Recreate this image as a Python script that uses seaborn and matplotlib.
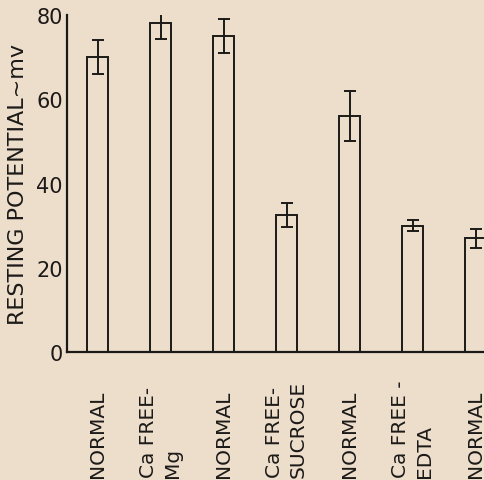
import matplotlib
matplotlib.use("Agg")
import matplotlib.pyplot as plt
import seaborn as sns
import pandas as pd
import numpy as np

# Resting potential by bathing solution
conditions = ["NORMAL", "Ca FREE-\nMg", "NORMAL", "Ca FREE-\nSUCROSE",
              "NORMAL", "Ca FREE -\nEDTA", "NORMAL"]
potential_mv = [70, 78, 75, 32.5, 56, 30, 27]
error_mv = [4, 3.7, 4, 2.9, 6, 1.3, 2.3]
y_ticks = [0, 20, 40, 60, 80]

bg = "#EDDECB"
ink = "#1c1a18"

sns.set_style("white")
plt.rcParams["font.family"] = ["DejaVu Sans"]

fig = plt.figure(figsize=(4.85, 4.81), dpi=100, facecolor=bg)
ax = fig.add_axes([0.138, 0.2661, 0.862, 0.7006])
ax.set_facecolor(bg)

df = pd.DataFrame({"pos": np.arange(len(conditions)), "mv": potential_mv})
sns.barplot(data=df, x="pos", y="mv", order=list(range(len(conditions))),
            width=0.33, color=bg, saturation=1, edgecolor=ink, linewidth=1.4,
            errorbar=None, ax=ax)
ax.errorbar(df["pos"], df["mv"], yerr=error_mv, fmt="none",
            ecolor=ink, elinewidth=1.4, capsize=4, capthick=1.4)

ax.set_xlim(-0.49, 6.15)
ax.set_ylim(0, 80)
ax.set_yticks(y_ticks)
ax.set_yticklabels([str(t) for t in y_ticks], fontsize=15, color=ink)
ax.set_xticks(range(len(conditions)))
ax.set_xticklabels(conditions, fontsize=14.5, color=ink)
plt.setp(ax.get_xticklabels(), rotation=90, va="bottom", ha="center",
         multialignment="left", linespacing=1.3)
ax.tick_params(axis="x", length=0, pad=90)
ax.tick_params(axis="y", direction="in", length=7, width=1.4, color=ink, pad=3)

for side in ["top", "right"]:
    ax.spines[side].set_visible(False)
for side in ["left", "bottom"]:
    ax.spines[side].set_color(ink)
    ax.spines[side].set_linewidth(1.6)

ax.set_xlabel("")
ax.set_ylabel("RESTING POTENTIAL~mv", fontsize=16, color=ink, labelpad=6)

fig.savefig("out.png", dpi=100, facecolor=bg)
